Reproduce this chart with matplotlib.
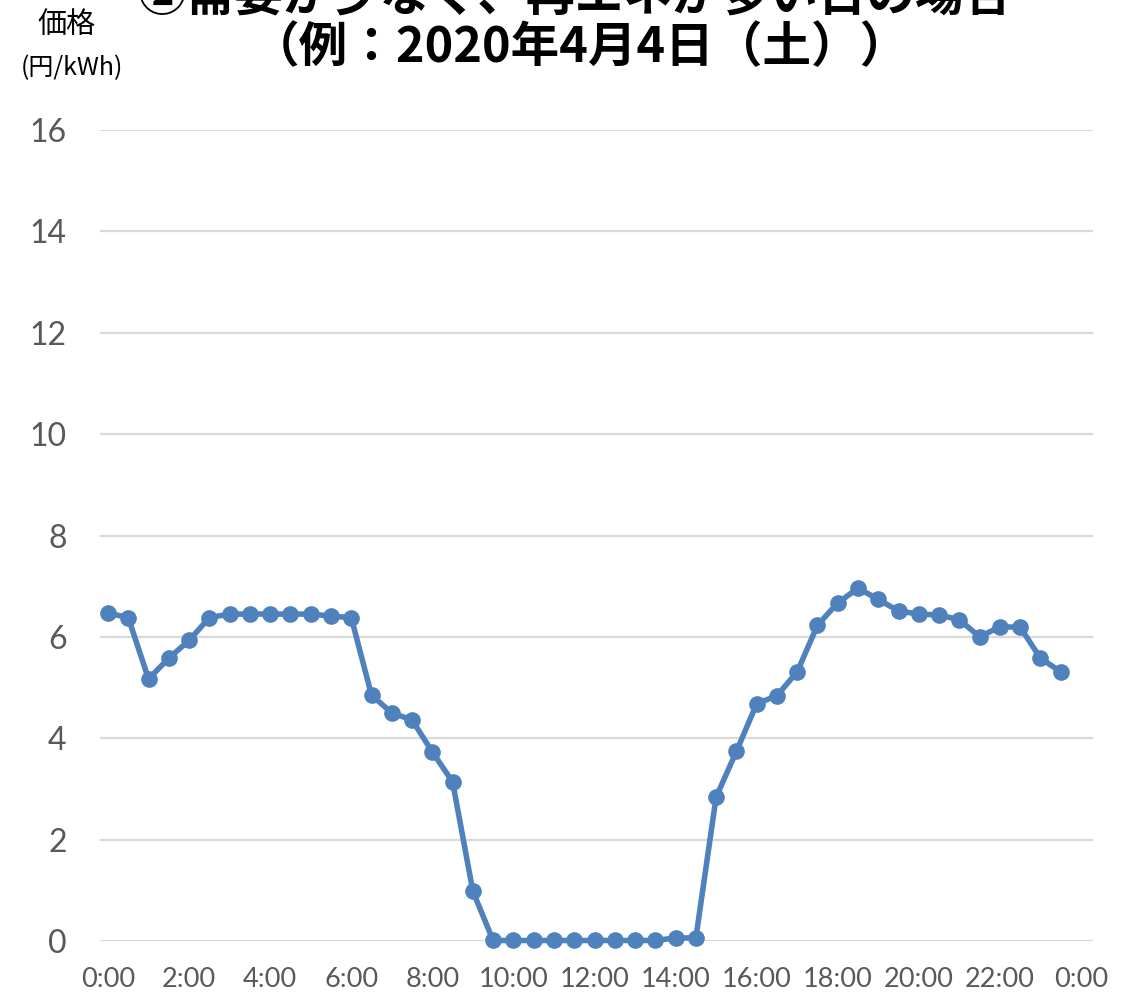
import matplotlib
matplotlib.use("Agg")
import matplotlib.pyplot as plt
import numpy as np

# Data: half-hourly prices (円/kWh), 2020-04-04
hours = [i * 0.5 for i in range(48)]
prices = [6.47, 6.38, 5.17, 5.58, 5.93, 6.38, 6.45, 6.45, 6.45, 6.45,
          6.45, 6.41, 6.38, 4.85, 4.50, 4.36, 3.73, 3.14, 0.98, 0.01,
          0.01, 0.01, 0.01, 0.01, 0.01, 0.01, 0.01, 0.01, 0.06, 0.06,
          2.84, 3.74, 4.68, 4.84, 5.31, 6.23, 6.67, 6.96, 6.74, 6.51,
          6.45, 6.43, 6.34, 6.00, 6.20, 6.19, 5.58, 5.31]
xtick_pos = list(range(0, 25, 2))
xtick_labels = ["0:00", "2:00", "4:00", "6:00", "8:00", "10:00", "12:00",
                "14:00", "16:00", "18:00", "20:00", "22:00", "0:00"]
ytick_pos = [0, 2, 4, 6, 8, 10, 12, 14, 16]

title1 = "②需要が少なく、再エネが多い日の場合"
title2 = "（例：2020年4月4日（土））"
ylabel1 = "価格"
ylabel2 = "(円/kWh)"

W, H = 1122, 992
fig = plt.figure(figsize=(W / 100, H / 100), dpi=100)
fig.patch.set_facecolor("white")

x0, x1 = 100, 1093
y0, y1 = 941, 130
ax = fig.add_axes([x0 / W, (H - y0) / H, (x1 - x0) / W, (y0 - y1) / H])

# x mapping: 0h at px 108, 24h at px 1081
pph = (1081 - 108) / 24
ax.set_xlim(-(108 - x0) / pph, 24 + (x1 - 1081) / pph)
ax.set_ylim(0, 16)

for v in ytick_pos:
    ax.axhline(v, color="#d9d9d9", lw=1.6, zorder=1)

ax.plot(hours, prices, color="#4f81bd", lw=4.0, marker="o", ms=12,
        markeredgewidth=0, zorder=3, clip_on=False)

for s in ax.spines.values():
    s.set_visible(False)

tick_font = ["Lato", "DejaVu Sans"]
ax.set_xticks(xtick_pos)
ax.set_xticklabels(xtick_labels, family=tick_font, fontsize=19.5, color="#595959")
ax.set_yticks(ytick_pos)
ax.set_yticklabels([str(v) for v in ytick_pos], family=tick_font, fontsize=23,
                   color="#595959")
ax.tick_params(axis="both", length=0)
ax.tick_params(axis="y", pad=24)
ax.tick_params(axis="x", pad=19)

cjk = ["Noto Sans CJK JP", "DejaVu Sans"]
fig.text(67 / W, 1 - 25 / H, ylabel1, family=cjk, fontsize=21, color="#000000",
         ha="center", va="center")
fig.text(72 / W, 1 - 68 / H, ylabel2, family=cjk, fontsize=18, color="#000000",
         ha="center", va="center")

fig.text(575 / W, 1 + 3 / H, title1, family=cjk, fontsize=35, fontweight="bold",
         ha="center", va="center")
fig.text(580 / W, 1 - 48 / H, title2, family=cjk, fontsize=35, fontweight="bold",
         ha="center", va="center")

fig.savefig("out.png", dpi=100, facecolor="white")
